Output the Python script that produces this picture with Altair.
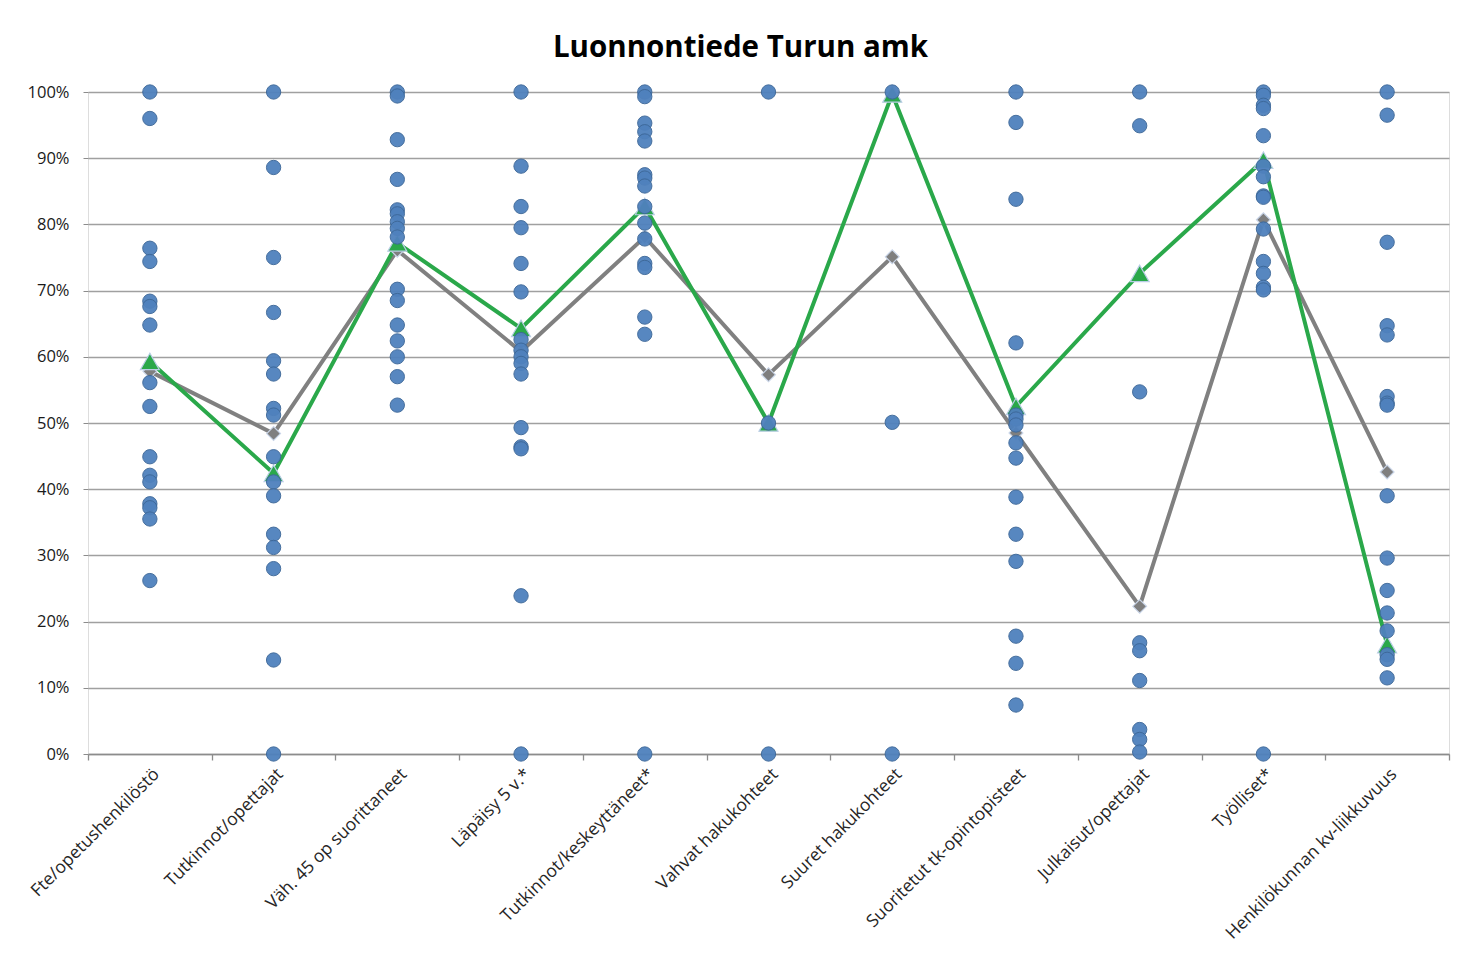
import altair as alt
import pandas as pd

categories = [
    "Fte/opetushenkilöstö", "Tutkinnot/opettajat", "Väh. 45 op suorittaneet",
    "Läpäisy 5 v.*", "Tutkinnot/keskeyttäneet*", "Vahvat hakukohteet",
    "Suuret hakukohteet", "Suoritetut tk-opintopisteet", "Julkaisut/opettajat",
    "Työlliset*", "Henkilökunnan kv-liikkuvuus",
]

# scatter of all institutions (percent)
dots_fte = [100, 96, 76.4, 74.4, 68.4, 67.6, 64.8, 56.1, 52.5, 44.9, 42.1, 41.1, 37.8, 37.2, 35.5, 26.2]
dots_tutk_opet = [100, 88.6, 75.0, 66.7, 59.4, 57.4, 52.2, 51.2, 44.9, 41.1, 39.0, 33.2, 31.2, 28.0, 14.2, 0]
dots_vah45 = [100, 99.4, 92.8, 86.8, 82.2, 81.6, 80.4, 79.4, 78.1, 70.2, 68.5, 64.8, 62.4, 60.0, 57.0, 52.7]
dots_lapaisy = [100, 88.8, 82.7, 79.5, 74.1, 69.8, 62.6, 61.0, 60.0, 59.0, 57.4, 49.3, 46.4, 46.1, 23.9, 0]
dots_tutk_kesk = [100, 99.3, 95.3, 94.0, 92.6, 87.5, 87.0, 85.8, 82.7, 80.2, 77.8, 74.1, 73.5, 66.0, 63.4, 0]
dots_vahvat = [100, 50.0, 0]
dots_suuret = [100, 50.1, 0]
dots_tk = [100, 95.4, 83.8, 62.1, 51.2, 50.6, 49.7, 47.0, 44.7, 38.8, 33.2, 29.1, 17.8, 13.7, 7.4]
dots_julk = [100, 94.9, 54.7, 16.8, 15.6, 11.1, 3.7, 2.2, 0.3]
dots_tyolliset = [100, 99.5, 98.0, 97.5, 93.4, 88.8, 87.2, 84.3, 84.1, 79.3, 74.4, 72.6, 70.5, 70.1, 0]
dots_kv = [100, 96.5, 77.3, 64.7, 63.3, 54.0, 53.0, 52.7, 39.0, 29.6, 24.7, 21.3, 18.6, 15.0, 14.3, 11.5]

all_dots = [dots_fte, dots_tutk_opet, dots_vah45, dots_lapaisy, dots_tutk_kesk,
            dots_vahvat, dots_suuret, dots_tk, dots_julk, dots_tyolliset, dots_kv]

# lines
turku_values = [59.3, 42.4, 77.2, 64.3, 82.7, 50.0, 99.7, 52.5, 72.6, 89.7, 16.5]
average_values = [57.8, 48.4, 76.1, 60.8, 78.1, 57.3, 75.1, 48.5, 22.3, 80.7, 42.6]

y_ticks = [i / 10 for i in range(11)]

dots_df = pd.DataFrame(
    [{"cat": c, "value": v / 100} for c, vals in zip(categories, all_dots) for v in vals]
)
turku_df = pd.DataFrame({"cat": categories, "value": [v / 100 for v in turku_values]})
avg_df = pd.DataFrame({"cat": categories, "value": [v / 100 for v in average_values]})

FONT = "Open Sans"

x_enc = alt.X(
    "cat:N", sort=categories, title=None,
    scale=alt.Scale(type="band", paddingInner=0, paddingOuter=0),
    axis=alt.Axis(
        labelAngle=-45, labelFont=FONT, labelFontSize=17.5, labelColor="#262626",
        tickBand="extent", tickSize=6, tickColor="#8c8c8c", tickWidth=1.3,
        domainColor="#8c8c8c", domainWidth=1.5, labelPadding=5, grid=False,
        labelLimit=400,
    ),
)
y_enc = alt.Y(
    "value:Q", title=None,
    scale=alt.Scale(domain=[0, 1], nice=False),
    axis=alt.Axis(
        values=y_ticks, format=".0%", labelFont=FONT, labelFontSize=16.5,
        labelColor="#1a1a1a", grid=True, gridColor="#a0a0a0", gridWidth=1.3,
        domain=False, tickSize=5, tickColor="#8c8c8c", labelPadding=14,
    ),
)

avg_line = alt.Chart(avg_df).mark_line(color="#808080", strokeWidth=4).encode(x=x_enc, y=y_enc)
avg_pts = alt.Chart(avg_df).mark_point(
    shape="diamond", filled=True, size=190, fill="#7f7f7f", stroke="#c9d5e8", strokeWidth=1.2, opacity=1
).encode(x=x_enc, y=y_enc)

turku_line = alt.Chart(turku_df).mark_line(color="#2aa84a", strokeWidth=4).encode(x=x_enc, y=y_enc)
turku_pts = alt.Chart(turku_df).mark_point(
    shape="triangle-up", filled=True, size=360, fill="#2aa84a", stroke="#b9cde5", strokeWidth=1.2, opacity=1
).encode(x=x_enc, y=y_enc)

dots = alt.Chart(dots_df).mark_circle(
    size=205, color="#4f81bd", stroke="#3d6899", strokeWidth=1, opacity=0.95
).encode(x=x_enc, y=y_enc)

chart = alt.layer(avg_line, turku_line, avg_pts, turku_pts, dots).properties(
    width=1361, height=662,
    title=alt.TitleParams(
        "Luonnontiede Turun amk", font=FONT, fontSize=29.5, fontWeight="bold",
        color="#000000", anchor="middle", dx=-28, dy=38, offset=34, baseline="alphabetic",
    ),
    autosize=alt.AutoSizeParams(type="none"),
    padding={"left": 80, "top": 84, "right": 9, "bottom": 196},
).configure_view(stroke=None).configure(background="white")

chart.save("out.html", embed_options={"renderer": "svg", "actions": False})
